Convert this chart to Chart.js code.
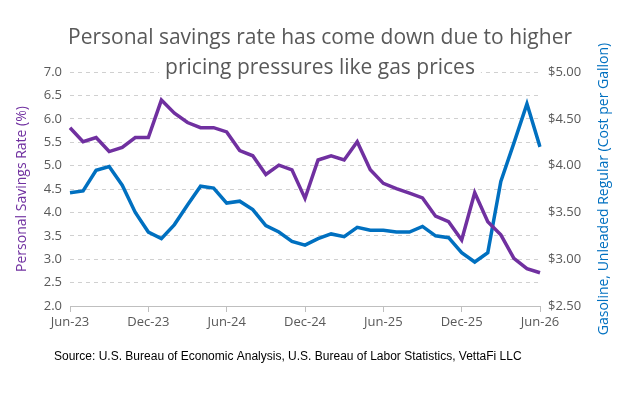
<!DOCTYPE html>
<html><head><meta charset="utf-8">
<script src="https://cdn.jsdelivr.net/npm/chart.js@4"></script>
<style>html,body{margin:0;padding:0;background:#fff}#w{width:639px;height:403px}</style>
</head><body><div id="w"><canvas id="c"></canvas></div>
<script>
const months = ['Jun-23','Jul-23','Aug-23','Sep-23','Oct-23','Nov-23','Dec-23','Jan-24','Feb-24','Mar-24','Apr-24','May-24','Jun-24','Jul-24','Aug-24','Sep-24','Oct-24','Nov-24','Dec-24','Jan-25','Feb-25','Mar-25','Apr-25','May-25','Jun-25','Jul-25','Aug-25','Sep-25','Oct-25','Nov-25','Dec-25','Jan-26','Feb-26','Mar-26','Apr-26','May-26','Jun-26'];
const savingsRate = [5.81,5.51,5.60,5.30,5.39,5.60,5.60,6.40,6.12,5.92,5.81,5.81,5.72,5.32,5.21,4.81,5.01,4.91,4.30,5.12,5.21,5.12,5.51,4.91,4.62,4.51,4.41,4.31,3.92,3.80,3.41,4.42,3.80,3.52,3.02,2.80,2.71];
const gasPrice = [3.71,3.73,3.95,3.99,3.79,3.50,3.29,3.22,3.37,3.58,3.78,3.76,3.60,3.62,3.53,3.36,3.29,3.19,3.15,3.22,3.27,3.24,3.34,3.31,3.31,3.29,3.29,3.35,3.25,3.23,3.07,2.97,3.07,3.83,4.24,4.66,4.20];
const titleLines = ['Personal savings rate has come down due to higher','pricing pressures like gas prices'];
const leftTitle = 'Personal Savings Rate (%)';
const rightTitle = 'Gasoline, Unleaded Regular (Cost per Gallon)';
const sourceText = 'Source: U.S. Bureau of Economic Analysis, U.S. Bureau of Labor Statistics, VettaFi LLC';
const FONT = "'Open Sans', Lato, sans-serif";
const gray = '#595959';

const textPlugin = {
  id:'texts',
  afterDraw(chart){
    const ctx = chart.ctx;
    const a = chart.chartArea;
    const midY = (a.top + a.bottom)/2;
    ctx.save();
    ctx.font = "21px " + FONT;
    ctx.textAlign='center'; ctx.textBaseline='middle';
    const w2 = ctx.measureText(titleLines[1]).width;
    ctx.fillStyle='#fff';
    ctx.fillRect(320 - w2/2 - 6, 56, w2 + 12, 24);
    ctx.fillStyle=gray;
    ctx.fillText(titleLines[0], 320, 38);
    ctx.fillText(titleLines[1], 320, 68);
    ctx.font = "14px " + FONT;
    ctx.save(); ctx.translate(22, midY); ctx.rotate(-Math.PI/2);
    ctx.fillStyle='#7030A0'; ctx.fillText(leftTitle, 0, 0); ctx.restore();
    ctx.save(); ctx.translate(604, midY); ctx.rotate(-Math.PI/2);
    ctx.fillStyle='#0070C0'; ctx.fillText(rightTitle, 0, 0); ctx.restore();
    ctx.font = "12px Arial, 'Liberation Sans', sans-serif";
    ctx.fillStyle='#000'; ctx.textAlign='left';
    ctx.fillText(sourceText, 54, 357);
    ctx.restore();
  }
};

new Chart(document.getElementById('c'), {
  type:'line',
  data:{labels:months, datasets:[
    {label:leftTitle, data:savingsRate, yAxisID:'y', borderColor:'#7030A0', borderWidth:3.5, pointRadius:0, tension:0},
    {label:rightTitle, data:gasPrice, yAxisID:'y1', borderColor:'#0070C0', borderWidth:3.5, pointRadius:0, tension:0}
  ]},
  plugins:[textPlugin],
  options:{
    responsive:true, maintainAspectRatio:false, animation:false,
    layout:{padding:{top:72,bottom:57,left:0,right:0}},
    plugins:{legend:{display:false},tooltip:{enabled:false}},
    scales:{
      x:{
        afterFit(s){s.height=40;},
        border:{color:'#bfbfbf'},
        grid:{drawOnChartArea:false, drawTicks:true, tickLength:6, color:(c)=> (c.index%6===0?'#bfbfbf':'transparent')},
        ticks:{autoSkip:false, maxRotation:0, color:gray, font:{size:13,family:FONT}, padding:2,
          callback:(v,i)=> i%6===0 ? months[i] : ''}
      },
      y:{
        position:'left', min:2, max:7,
        afterFit(s){s.width=70;},
        border:{display:false, dash:[4,4]},
        grid:{color:'#d0d0d0', drawTicks:false, lineWidth:1},
        ticks:{stepSize:0.5, color:gray, font:{size:13,family:FONT}, padding:8, callback:v=>v.toFixed(1)}
      },
      y1:{
        position:'right', min:2.5, max:5,
        afterFit(s){s.width=99;},
        border:{display:false},
        grid:{drawOnChartArea:false, drawTicks:false},
        ticks:{stepSize:0.5, color:gray, font:{size:13,family:FONT}, padding:8, callback:v=>'$'+v.toFixed(2)}
      }
    }
  }
});
</script>
</body></html>
